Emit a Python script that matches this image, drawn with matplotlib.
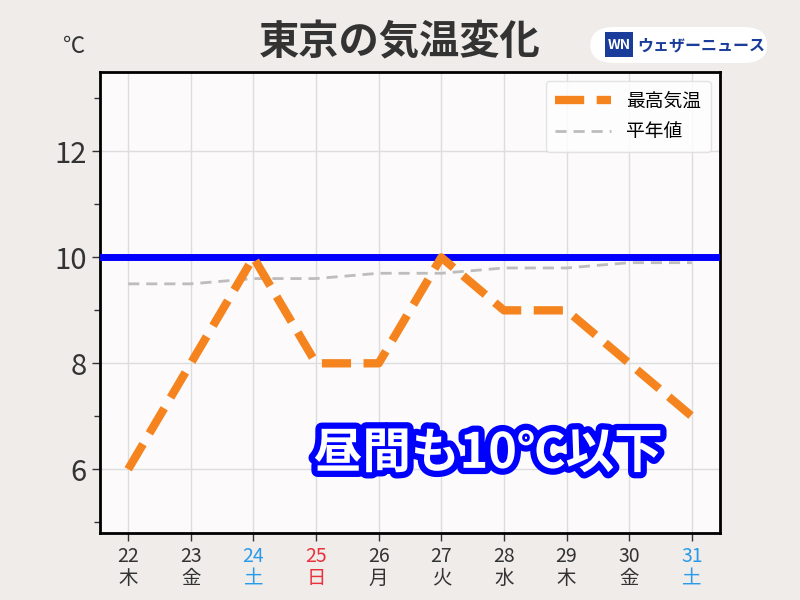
import matplotlib.pyplot as plt
import matplotlib.patheffects as pe
from matplotlib.patches import FancyBboxPatch, Rectangle

plt.rcParams['font.family'] = ['Noto Sans CJK JP', 'DejaVu Sans']

days = ["22", "23", "24", "25", "26", "27", "28", "29", "30", "31"]
weekdays = ["木", "金", "土", "日", "月", "火", "水", "木", "金", "土"]
max_temp = [6, 8, 10, 8, 8, 10, 9, 9, 8, 7]
normal_temp = [9.5, 9.5, 9.6, 9.6, 9.7, 9.7, 9.8, 9.8, 9.9, 9.9]
threshold = 10

label_colors = {"土": "#2a9be8", "日": "#e8323c"}

fig = plt.figure(figsize=(8, 6), dpi=100, facecolor="#efecea")
ax = fig.add_axes([0.125, 0.112, 0.775, 0.768])
ax.set_facecolor("#fcfafb")

x = list(range(len(days)))
ax.axhline(threshold, color="#0000ff", lw=5, zorder=3)
ax.plot(x, normal_temp, color="#bdbdbd", lw=2, ls=(0, (4, 2.5)), label="平年値", zorder=2)
ax.plot(x, max_temp, color="#f5841f", lw=6, ls=(0, (3.5, 1.5)), label="最高気温", zorder=4)

ax.set_xlim(-0.45, 9.45)
ax.set_ylim(4.8, 13.5)
ax.set_yticks([6, 8, 10, 12])
ax.set_yticks([5, 7, 9, 11, 13], minor=True)
ax.set_xticks(x)
ax.set_xticklabels([f"{d}\n{w}" for d, w in zip(days, weekdays)], fontsize=14, linespacing=1.05)
ax.tick_params(axis="y", which="major", labelsize=21, colors="#333333", length=6, width=1)
ax.tick_params(axis="y", which="minor", length=4, width=1, colors="#333333")
ax.tick_params(axis="x", length=6, width=1, colors="#333333")
for lbl, w in zip(ax.get_xticklabels(), weekdays):
    lbl.set_color(label_colors.get(w, "#333333"))
ax.grid(True, which="major", color="#dddddd", lw=1)
for s in ax.spines.values():
    s.set_linewidth(2)
    s.set_color("black")

handles, labels = ax.get_legend_handles_labels()
leg = ax.legend(handles[::-1], labels[::-1], loc="upper right", fontsize=13.5,
                frameon=True, facecolor="white", edgecolor="#dddddd",
                handlelength=3, borderpad=0.5)
leg.get_frame().set_linewidth(1)

fig.text(0.093, 0.922, "℃", fontsize=16, color="#333333", ha="center", va="center")
fig.text(0.5, 0.928, "東京の気温変化", fontsize=29, fontweight="bold", color="#333333",
         ha="center", va="center")

# logo
fig.patches.append(FancyBboxPatch((0.738, 0.895), 0.221, 0.06, boxstyle="round,pad=0,rounding_size=0.03",
                                  transform=fig.transFigure, facecolor="white", edgecolor="none"))
fig.patches.append(Rectangle((0.756, 0.905), 0.035, 0.042, transform=fig.transFigure,
                             facecolor="#1a3c9a", edgecolor="none"))
fig.text(0.7735, 0.925, "WN", fontsize=10, fontweight="bold", style="italic", color="white",
         ha="center", va="center")
fig.text(0.797, 0.924, "ウェザーニュース", fontsize=11.5, fontweight="bold", color="#1a3c9a",
         ha="left", va="center")

ax.text(5.75, 6.3, "昼間も10℃以下", fontsize=35, fontweight="bold", color="white",
        ha="center", va="center", zorder=6,
        path_effects=[pe.withStroke(linewidth=9, foreground="#0000ff")])

fig.savefig("out.png", dpi=100, facecolor=fig.get_facecolor())
